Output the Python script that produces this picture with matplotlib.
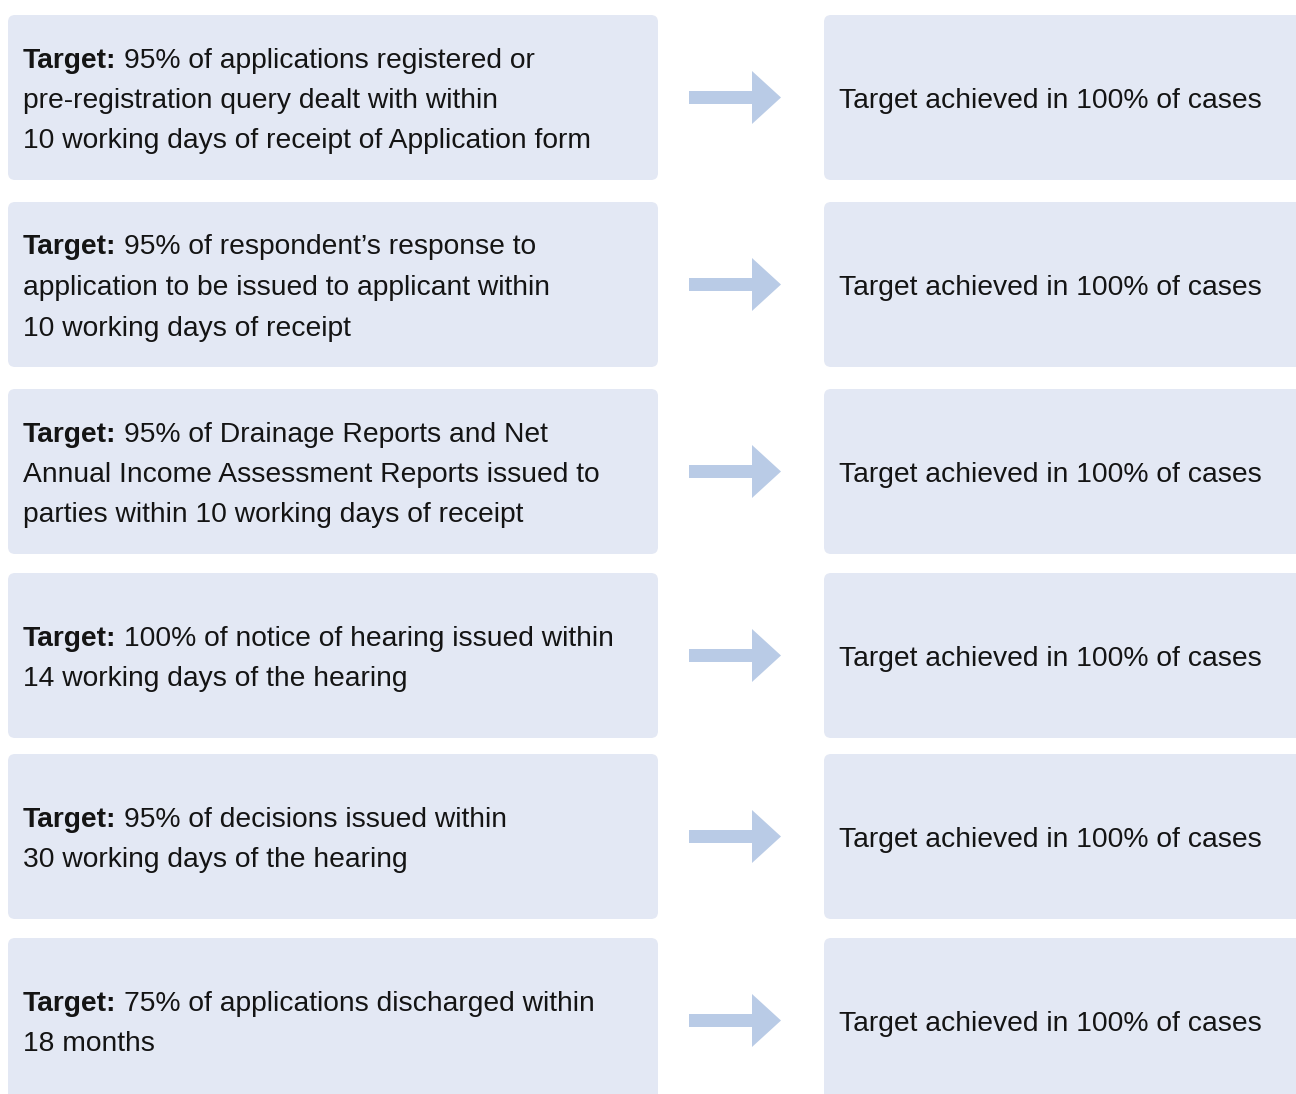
import matplotlib
matplotlib.use("Agg")
import matplotlib.pyplot as plt
from matplotlib.patches import FancyBboxPatch, FancyArrow

# Content
target_labels = ["Target:"] * 6
target_lines = [
    ["95% of applications registered or",
     "pre-registration query dealt with within",
     "10 working days of receipt of Application form"],
    ["95% of respondent\u2019s response to",
     "application to be issued to applicant within",
     "10 working days of receipt"],
    ["95% of Drainage Reports and Net",
     "Annual Income Assessment Reports issued to",
     "parties within 10 working days of receipt"],
    ["100% of notice of hearing issued within",
     "14 working days of the hearing"],
    ["95% of decisions issued within",
     "30 working days of the hearing"],
    ["75% of applications discharged within",
     "18 months"],
]
results = ["Target achieved in 100% of cases"] * 6

# Layout (pixels)
W, H = 1296, 1094
row_tops = [15, 202, 389, 573, 754, 938]
row_h = 165
left_x0, left_x1 = 8, 658
right_x0, right_x1 = 824, 1310
arrow_x0, arrow_x1 = 689, 781
line_gap = 40.5
font = "Liberation Sans"
fsize = 20.3
box_color = "#e3e8f4"
arrow_color = "#b9cbe6"
text_color = "#141414"

fig = plt.figure(figsize=(W / 100, H / 100), dpi=100)
ax = fig.add_axes([0, 0, 1, 1])
ax.set_xlim(0, W)
ax.set_ylim(H, 0)
ax.axis("off")
renderer = fig.canvas.get_renderer()

for i, top in enumerate(row_tops):
    cy = top + row_h / 2
    for x0, x1 in [(left_x0, left_x1), (right_x0, right_x1)]:
        ax.add_patch(FancyBboxPatch((x0, top), x1 - x0, row_h,
                                    boxstyle="round,pad=0,rounding_size=7",
                                    fc=box_color, ec="none"))

    # arrow
    ax.add_patch(FancyArrow(arrow_x0, cy, arrow_x1 - arrow_x0, 0, width=13,
                            head_width=53, head_length=29,
                            length_includes_head=True, fc=arrow_color, ec="none"))

    # left text, bold label then the rest of the first line
    lines = target_lines[i]
    n = len(lines)
    for j, line in enumerate(lines):
        yb = cy + 10.5 + (j - (n - 1) / 2) * line_gap
        x = 23
        if j == 0:
            t = ax.text(x, yb, target_labels[i], fontsize=fsize, family=font,
                        weight="bold", color=text_color, va="baseline")
            bb = t.get_window_extent(renderer)
            x += bb.width + 8
        ax.text(x, yb, line, fontsize=fsize, family=font, color=text_color,
                va="baseline")

    # right text
    ax.text(839, cy + 10.5, results[i], fontsize=fsize, family=font,
            color=text_color, va="baseline")

fig.savefig("out.png", dpi=100)
